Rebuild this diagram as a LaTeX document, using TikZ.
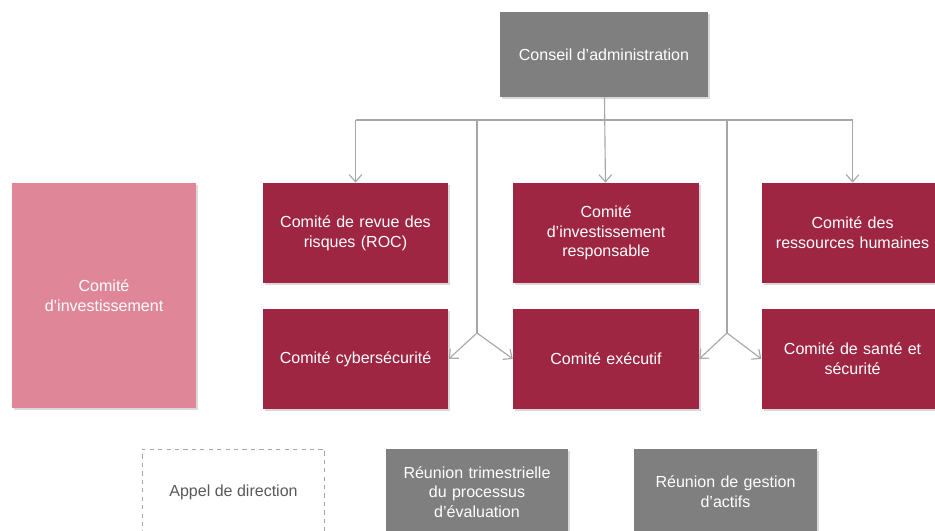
\documentclass[tikz,border=0pt]{standalone}
\usepackage{fontspec}
\setmainfont{Liberation Sans}
\usetikzlibrary{arrows.meta,positioning,shadows}

\definecolor{crimson}{HTML}{9E2642}
\definecolor{rosy}{HTML}{DF8699}
\definecolor{slate}{HTML}{7F7F7F}
\definecolor{wire}{HTML}{A6A6A6}

\begin{document}
\begin{tikzpicture}[x=0.025cm,y=-0.025cm,>={Straight Barb[length=5pt,width=9pt]},
	semithick,node distance=1.6cm,
	font=\fontsize{11.4}{14}\selectfont]
	\tikzstyle{box}=[rectangle,align=center,text=white,inner sep=2pt,
		drop shadow={shadow xshift=1.5pt,shadow yshift=-1.5pt,opacity=0.3}]
	\tikzstyle{comite}=[box,fill=crimson,minimum width=4.6cm,minimum height=2.5cm,text width=4.5cm]
	\tikzstyle{board}=[box,fill=slate,minimum width=5.2cm,minimum height=2.125cm]
	\tikzstyle{meeting}=[box,fill=slate,minimum width=4.55cm,minimum height=2.15cm,text width=4.4cm]
	\tikzstyle{wire}=[draw=wire,line width=0.8pt]

	\clip (0,0) rectangle (935,531);

	\node[board] (ca) at (604,54.5) {Conseil d’administration};

	% premiere rangee
	\node[comite] (roc) at (355.5,233) {Comité de revue des\\risques (ROC)};
	\node[comite] (ir) [right=of roc] {Comité\\d’investissement\\responsable};
	\node[comite,minimum width=4.45cm,text width=4.4cm] (rh) [right=1.55cm of ir] {Comité des\\ressources humaines};

	% deuxieme rangee
	\node[comite] (cyber) [below=0.625cm of roc] {Comité cybersécurité};
	\node[comite] (exec) [below=0.625cm of ir] {Comité exécutif};
	\node[comite,minimum width=4.45cm,text width=4.4cm] (sante) [below=0.625cm of rh] {Comité de santé et\\sécurité};

	\node[box,fill=rosy,minimum width=4.6cm,minimum height=5.625cm] (ci) at (104,295.5) {Comité\\d’investissement};

	% reunions
	\node[draw=wire,dashed,thin,text=black!65,minimum width=4.55cm,minimum height=2.15cm] (appel) at (233.5,492) {Appel de direction};
	\node[meeting] (trim) at (477,492) {Réunion trimestrielle\\du processus\\d’évaluation};
	\node[meeting] (gest) at (725.5,492) {Réunion de gestion\\d’actifs};

	\coordinate (busL) at (roc.north |- 0,120);
	\coordinate (busR) at (rh.north |- 0,120);
	\coordinate (j1) at (477,333);
	\coordinate (j2) at (727,333);

	\path[wire]
	(busL) edge (busR)
	(busL) edge[->] (roc)
	(busR) edge[->] (rh)
	(ca) edge[->] (ir)
	(j1 |- busL) edge (j1)
	(j2 |- busL) edge (j2)
	(j1) edge[->] (cyber.east)
	(j1) edge[->] (exec.west)
	(j2) edge[->] (exec.east)
	(j2) edge[->] (sante.west)
	;
\end{tikzpicture}
\end{document}
